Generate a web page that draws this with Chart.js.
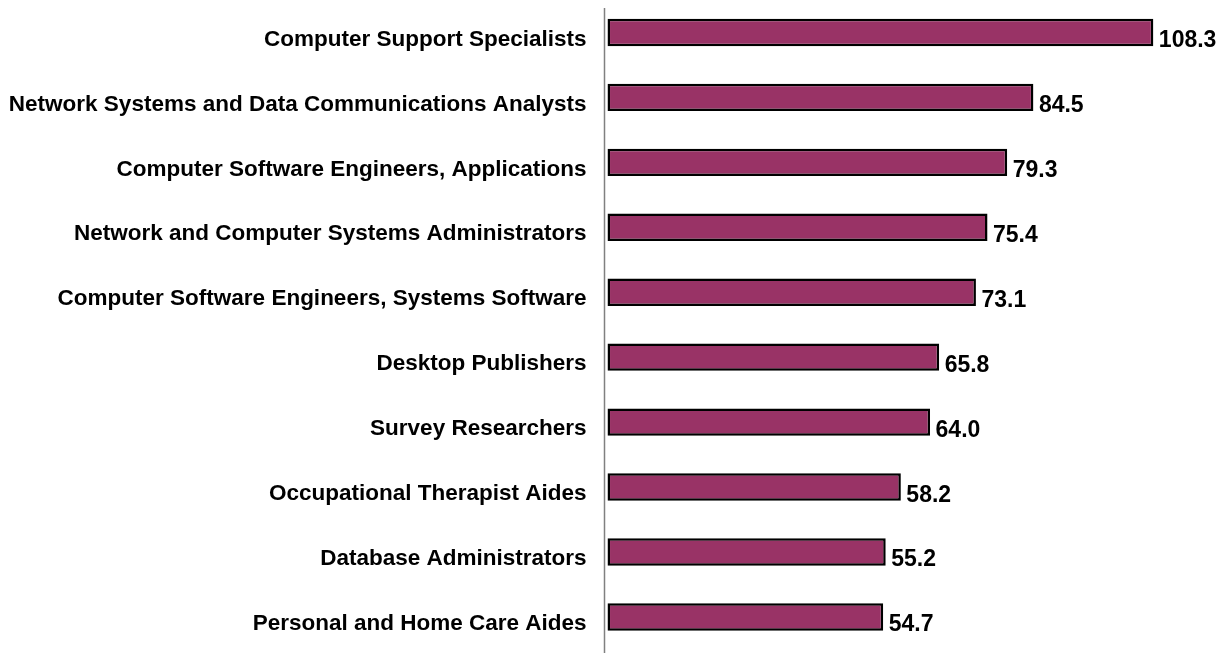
<!DOCTYPE html>
<html>
<head>
<meta charset="utf-8">
<script src="https://cdn.jsdelivr.net/npm/chart.js@4.4.1/dist/chart.umd.min.js"></script>
<style>
  html, body { margin: 0; padding: 0; background: #ffffff; }
  #wrap { width: 1231px; height: 653px; position: relative; }
</style>
</head>
<body>
<div id="wrap"><canvas id="c"></canvas></div>
<script>
const categories = [
  "Computer Support Specialists",
  "Network Systems and Data Communications Analysts",
  "Computer Software Engineers, Applications",
  "Network and Computer Systems Administrators",
  "Computer Software Engineers, Systems Software",
  "Desktop Publishers",
  "Survey Researchers",
  "Occupational Therapist Aides",
  "Database Administrators",
  "Personal and Home Care Aides"
];
const values = [108.3, 84.5, 79.3, 75.4, 73.1, 65.8, 64.0, 58.2, 55.2, 54.7];

const FONT = "'Liberation Sans', Arial, sans-serif";

const valueLabels = {
  id: 'valueLabels',
  afterDatasetsDraw(chart) {
    const ctx = chart.ctx;
    const meta = chart.getDatasetMeta(0);
    ctx.save();
    ctx.font = "bold 23px " + FONT;
    ctx.fillStyle = '#000000';
    ctx.textAlign = 'left';
    ctx.textBaseline = 'alphabetic';
    meta.data.forEach((bar, i) => {
      ctx.fillText(values[i].toFixed(1), bar.x + 5.5, bar.y + 14.5);
    });
    ctx.restore();
  }
};

const axisLine = {
  id: 'axisLine',
  afterDraw(chart) {
    const ctx = chart.ctx;
    const a = chart.chartArea;
    ctx.save();
    ctx.strokeStyle = '#808080';
    ctx.lineWidth = 1.5;
    ctx.beginPath();
    ctx.moveTo(a.left, a.top + 8);
    ctx.lineTo(a.left, chart.height);
    ctx.stroke();
    ctx.restore();
  }
};

new Chart(document.getElementById('c'), {
  type: 'bar',
  data: {
    labels: categories,
    datasets: [{
      data: values,
      backgroundColor: '#993366',
      borderColor: '#000000',
      borderWidth: 2.5,
      borderSkipped: false,
      categoryPercentage: 1,
      barPercentage: 0.422
    }]
  },
  options: {
    indexAxis: 'y',
    responsive: true,
    maintainAspectRatio: false,
    animation: false,
    layout: { padding: { top: 0, bottom: 3.6, left: 0, right: 18.7 } },
    plugins: { legend: { display: false }, tooltip: { enabled: false } },
    scales: {
      x: {
        display: false,
        min: -0.6,
        max: 120
      },
      y: {
        grid: { display: false, drawTicks: false },
        border: { display: false },
        ticks: {
          color: '#000000',
          font: { family: FONT, size: 22.5, weight: 'bold' },
          padding: 18,
          labelOffset: 7
        },
        afterFit(scale) {
          scale.width = 604.5;
          scale.paddingTop = 0;
          scale.paddingBottom = 0;
        }
      }
    }
  },
  plugins: [valueLabels, axisLine]
});
</script>
</body>
</html>
